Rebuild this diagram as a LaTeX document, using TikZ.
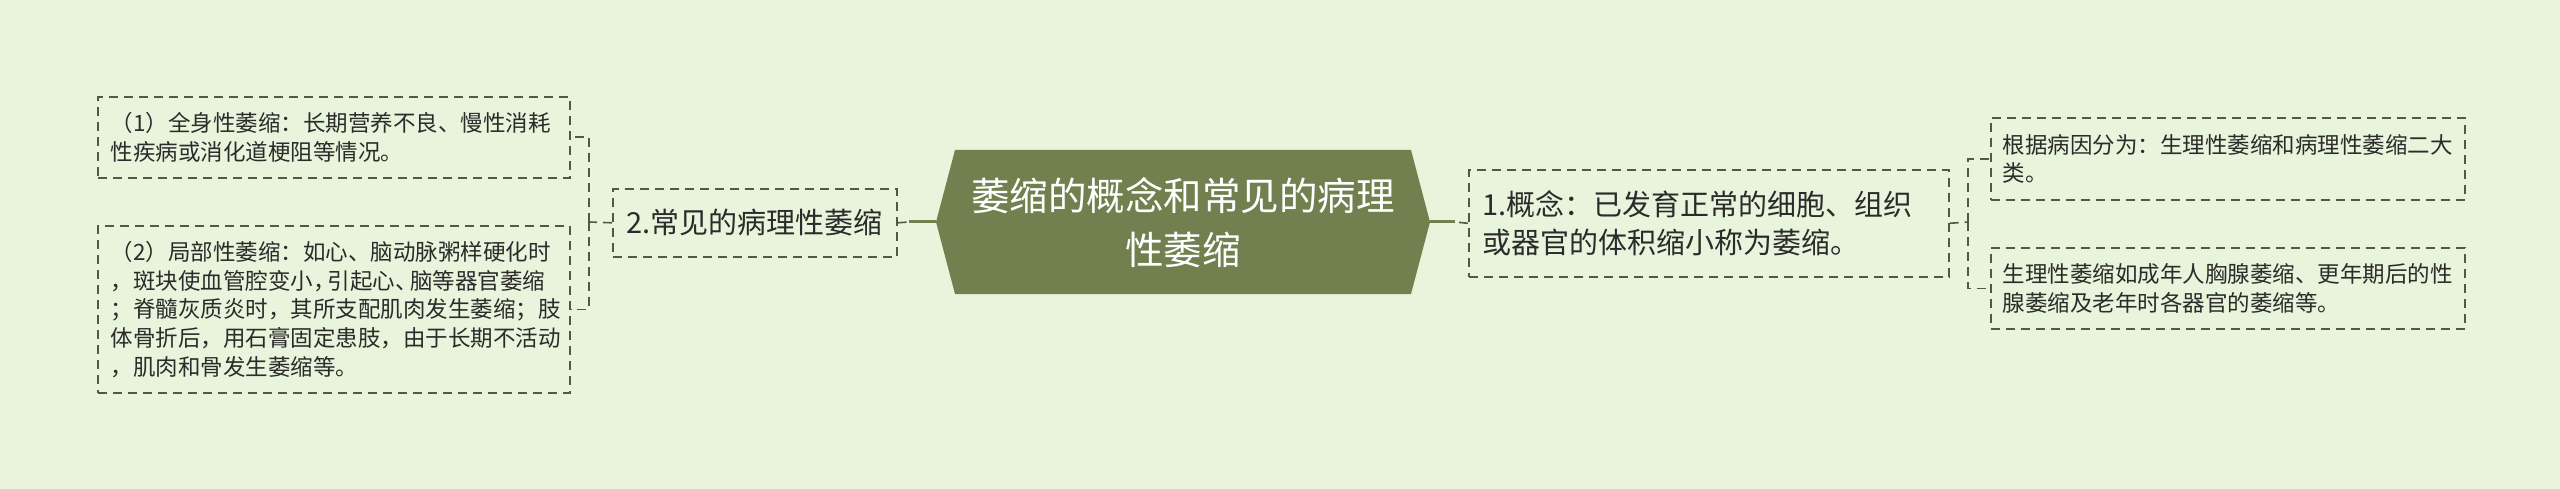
\documentclass[tikz,border=0pt]{standalone}
\usepackage{fontspec}
\setmainfont{Noto Sans CJK SC}
\definecolor{bgc}{HTML}{E8F4DB}
\definecolor{olivec}{HTML}{72804F}
\definecolor{dashc}{HTML}{4F5A45}
\definecolor{txtc}{HTML}{2B2B2B}
\tikzset{
  dbox/.style={draw=dashc, line width=1.6pt, dash pattern=on 9pt off 6pt, rectangle, text=txtc, anchor=north west, inner ysep=0pt},
  leaf/.style={dbox, font=\fontsize{22.5}{28.7}\selectfont, align=left, inner xsep=13pt},
  conn/.style={draw=dashc, line width=1.6pt, dash pattern=on 9pt off 6pt},
  thick conn/.style={draw=olivec, line width=3pt},
}
\begin{document}
\begin{tikzpicture}[x=1pt,y=-1pt]
\fill[bgc] (0,0) rectangle (2560,489);
\useasboundingbox (0,0) rectangle (2560,489);

% central topic
\coordinate (cL) at (936,222);
\coordinate (cR) at (1430,222);
\fill[olivec] (cL) -- (955,150) -- (1411,150) -- (cR) -- (1411,294) -- (955,294) -- cycle;
\node[text=white, align=center, font=\fontsize{38.5}{54}\selectfont] (c) at (1183,223) {萎缩的概念和常见的病理\\性萎缩};

% left child
\node[dbox, minimum width=284pt, minimum height=68pt, font=\fontsize{29}{38}\selectfont] (ch2) at (612,188) {2.常见的病理性萎缩};

% right child
\node[dbox, minimum width=480pt, minimum height=107pt, text width=452pt, inner xsep=14pt, align=left, font=\fontsize{29}{38}\selectfont] (ch1) at (1468,169) {1.概念：已发育正常的细胞、组织\\或器官的体积缩小称为萎缩。};

% left leaves
\node[leaf, minimum width=472pt, minimum height=81pt, text width=446pt] (l1) at (97,96) {（1）全身性萎缩：长期营养不良、慢性消耗\\性疾病或消化道梗阻等情况。};
\node[leaf, minimum width=472pt, minimum height=167pt, text width=446pt] (l2) at (97,225) {（2）局部性萎缩：如心、脑动脉粥样硬化时\\，斑块使血管腔变小，\kern-.35em引起心、\kern-.35em脑等器官萎缩\\；脊髓灰质炎时，其所支配肌肉发生萎缩；肢\\体骨折后，用石膏固定患肢，由于长期不活动\\，肌肉和骨发生萎缩等。};

% right leaves
\node[leaf, minimum width=474pt, minimum height=82pt, text width=450pt, inner xsep=12pt] (r1) at (1990,117) {根据病因分为：生理性萎缩和病理性萎缩二大\\类。};
\node[leaf, minimum width=474pt, minimum height=81pt, text width=450pt, inner xsep=12pt] (r2) at (1990,247) {生理性萎缩如成年人胸腺萎缩、更年期后的性\\腺萎缩及老年时各器官的萎缩等。};

% connectors centre -> children
\coordinate (jL) at (909,222);
\coordinate (jR) at (1455,222);
\draw[thick conn] (cL) -- (jL);
\draw[conn] (ch2.east) -- (jL);
\draw[thick conn] (cR) -- (jR);
\draw[conn] (ch1.west) -- (jR);

% elbow connectors children -> leaves
\coordinate (eL) at (589,222);
\draw[conn] (ch2.west) -- (eL);
\draw[conn] (eL) |- (l1.east);
\draw[conn] (eL) |- (l2.east);
\coordinate (eR) at (1968,222);
\draw[conn] (ch1.east) -- (eR);
\draw[conn] (eR) |- (r1.west);
\draw[conn] (eR) |- (r2.west);
\end{tikzpicture}
\end{document}
